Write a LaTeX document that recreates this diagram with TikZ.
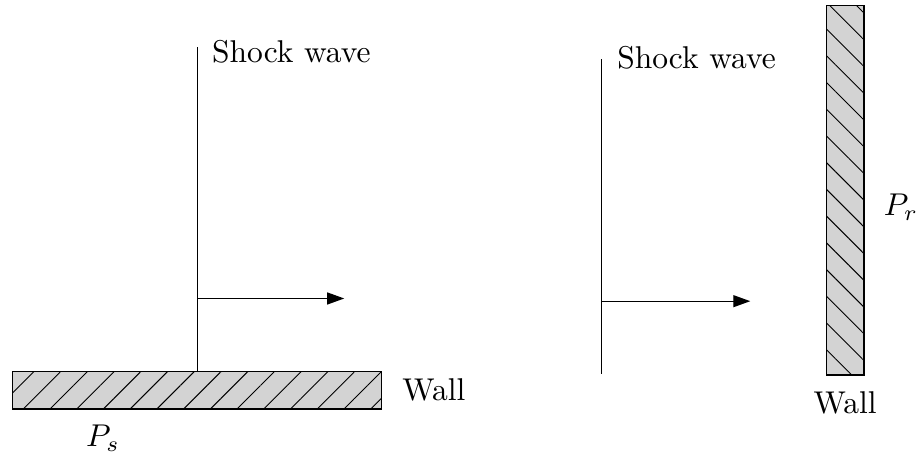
\documentclass[tikz,border=0pt]{standalone}
\usepackage{amsmath, amssymb}
\usepackage{tikz}
\usepackage{xcolor}
\usetikzlibrary{arrows.meta, positioning, patterns.meta}
\definecolor{wallgray}{HTML}{D3D3D3}

\tikzset{
  wall/.style={draw, fill=wallgray, inner sep=0pt, anchor=south west},
  front/.style={-{Triangle[length=5.4pt, width=3.8pt]}},
  lbl/.style={inner sep=0pt, anchor=base west}
}

\begin{document}
\begin{tikzpicture}
\useasboundingbox (0,0) rectangle (10.23,5.12);
% left: shock travelling along the wall
\node[wall, minimum width=4.12cm, minimum height=0.42cm,
      postaction={pattern={Lines[angle=45, distance=6pt, line width=0.3pt]}}] (wallS) at (0.13,0.55) {};
\coordinate (shS) at (2.2,4.59);
\draw (wallS.north -| shS) -- (shS);
\coordinate (fS) at (2.2,1.79);
\coordinate (fSend) at (3.84,1.79);
\draw[front] (fS) -- (fSend);
\node[lbl] (swS) at (2.36,4.42) {Shock wave};
\node[right=1mm of wallS] (wS) {Wall};
\node (pS) at (1.15,0.23) {$P_s$};
% right: shock running head-on into the wall
\node[wall, minimum width=0.42cm, minimum height=4.12cm,
      postaction={pattern={Lines[angle=-45, distance=6pt, line width=0.3pt]}}] (wallR) at (9.21,0.93) {};
\coordinate (shR) at (6.71,4.46);
\coordinate (shRb) at (6.71,0.95);
\draw (shRb) -- (shR);
\coordinate (fR) at (6.71,1.76);
\coordinate (fRend) at (8.37,1.76);
\draw[front] (fR) -- (fRend);
\node[lbl] (swR) at (6.88,4.36) {Shock wave};
\node[below=0.5mm of wallR] (wR) {Wall};
\node (pR) at (10.05,2.81) {$P_r$};
\end{tikzpicture}
\end{document}
